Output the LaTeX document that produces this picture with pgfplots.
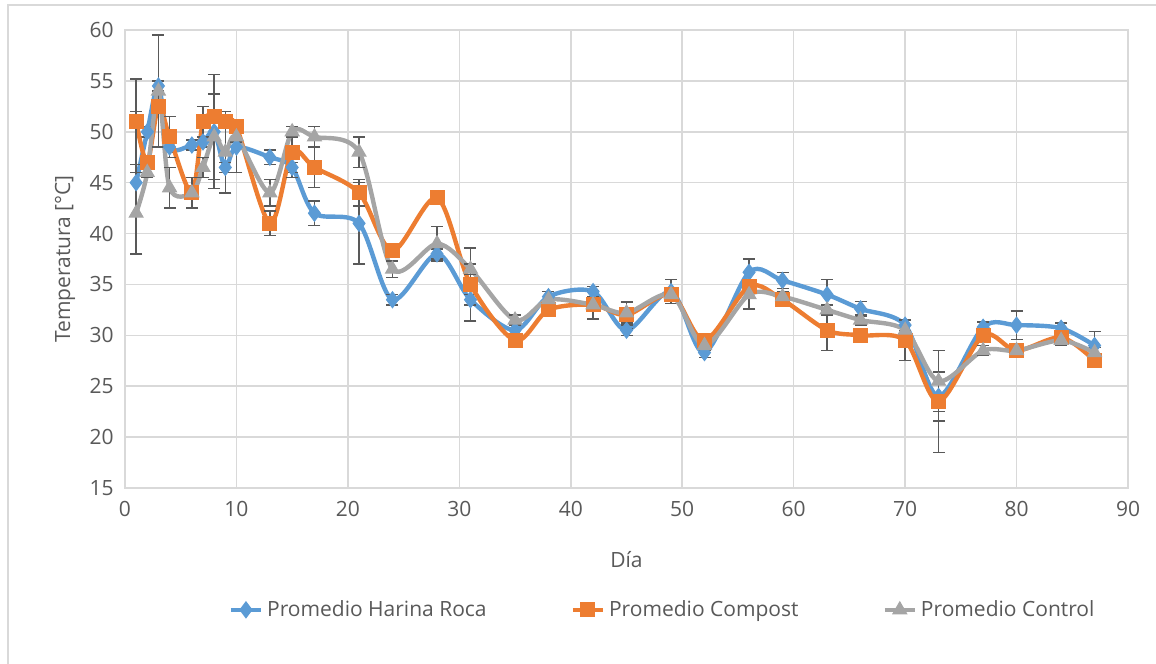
\documentclass[border=0pt]{standalone}
\usepackage{fontspec}
\setmainfont{Open Sans}
\usepackage{pgfplots}
\usepackage{pgfplotstable}
\pgfplotsset{compat=1.18}
\definecolor{cblue}{HTML}{5B9BD5}
\definecolor{corange}{HTML}{ED7D31}
\definecolor{cgray}{HTML}{A5A5A5}
\definecolor{ctext}{HTML}{595959}
\definecolor{cgrid}{HTML}{D9D9D9}
\definecolor{cerr}{HTML}{595959}

\pgfplotstableread{
x y e
1 45 7
2 50 0.5
3 54.5 0.5
4 48.5 0.5
6 48.7 0.5
7 49 0.5
8 50 5.6
9 46.5 0.5
10 48.5 2.5
13 47.5 0.7
15 46.5 0.5
17 42 1.2
21 41 4
24 33.5 0.5
28 38 0.5
31 33.5 0.5
35 30.5 0.5
38 33.8 0.5
42 34.3 0.5
45 30.5 0.5
49 34.3 1.2
52 28.3 0.5
56 36.2 1.3
59 35.4 0.8
63 34 1.5
66 32.6 0.7
70 31 0.5
73 24 2.4
77 30.8 0.5
80 31 1.4
84 30.7 0.5
87 29 1.4
}\harina

\pgfplotstableread{
x y e
1 51 4.2
2 47 0.5
3 52.5 0.5
4 49.5 2
6 44 1.5
7 51 1.5
8 51.5 0.5
9 51 0.5
10 50.5 0.5
13 41 1.2
15 48 2.5
17 46.5 2
21 44 1.3
24 38.3 0.5
28 43.5 0.5
31 35 3.6
35 29.5 0.5
38 32.5 0.5
42 33 0.5
45 32 1.3
49 34 0.5
52 29.5 0.5
56 34.8 0.5
59 33.5 0.5
63 30.5 2
66 30 0.5
70 29.5 2
73 23.5 5
77 30 0.5
80 28.5 0.5
84 29.8 0.5
87 27.5 0.5
}\compost

\pgfplotstableread{
x y e
1 42 4
2 46 0.5
3 54 5.5
4 44.5 2
6 44 0.5
7 46.5 1
8 49.5 4.2
9 48 4
10 49.5 0.5
13 44 1.3
15 50 0.5
17 49.5 1
21 48 1.5
24 36.5 0.8
28 39 1.7
31 36.5 0.5
35 31.5 0.5
38 33.5 0.8
42 33 1.4
45 32.2 1
49 34 0.5
52 29 0.5
56 34 1.4
59 33.8 0.5
63 32.5 0.5
66 31.5 0.5
70 30.5 1
73 25.5 3
77 28.5 0.5
80 28.5 0.5
84 29.5 0.5
87 28.3 0.5
}\control

\begin{document}
\fontsize{10.5bp}{12bp}\selectfont
\begin{tikzpicture}
\begin{axis}[
  scale only axis,
  width=501.5bp, height=229bp,
  xmin=0, xmax=90, ymin=15, ymax=60,
  xtick={0,10,...,90}, ytick={15,20,...,60},
  grid=major,
  major grid style={cgrid, line width=0.8bp},
  axis line style={cgrid, line width=0.8bp},
  tick style={draw=none},
  ticklabel style={color=ctext, font=\fontsize{10.5bp}{12bp}\selectfont},
  /pgf/number format/assume math mode=true,
  yticklabel style={xshift=-2bp},
  xticklabel style={yshift=-3bp},
  ylabel={Temperatura [°C]},
  xlabel={Día},
  label style={color=ctext, font=\fontsize{10.5bp}{12bp}\selectfont},
  ylabel style={at={(axis description cs:-0.0598,0.5)}, anchor=center},
  xlabel style={at={(axis description cs:0.5,-0.157)}, anchor=center},
  legend columns=3,
  legend style={at={(axis description cs:0.537,-0.266)}, anchor=center, draw=none,
    font=\fontsize{10.5bp}{12bp}\selectfont, text=ctext,
    /tikz/every even column/.append style={column sep=40bp}},
  legend image code/.code={
    \draw[#1, mark=none] (0bp,0bp) -- (15bp,0bp);
    \draw[#1, only marks] plot coordinates {(7.5bp,0bp)};
  },
  error bars/y dir=both,
  error bars/y explicit,
  error bars/error bar style={cerr, line width=0.7bp},
  error bars/error mark options={cerr, line width=0.7bp, rotate=90, mark size=3bp},
]
\addplot[cblue, line width=2.2bp, smooth, mark=diamond*, mark size=4bp,
  mark options={fill=cblue, draw=cblue, line width=0.5bp}]
  table[x=x, y=y, y error=e] {\harina};
\addlegendentry{Promedio Harina Roca}
\addplot[corange, line width=2.2bp, smooth, mark=square*, mark size=3.5bp,
  mark options={fill=corange, draw=corange, line width=0.5bp}]
  table[x=x, y=y, y error=e] {\compost};
\addlegendentry{Promedio Compost}
\addplot[cgray, line width=2.2bp, smooth, mark=triangle*, mark size=4bp,
  mark options={fill=cgray, draw=cgray, line width=0.5bp}]
  table[x=x, y=y, y error=e] {\control};
\addlegendentry{Promedio Control}
\end{axis}
\draw[cgrid, line width=0.8bp] (-58.5bp,-100bp) -- (-58.5bp,241.5bp) -- (530bp,241.5bp);
\pgfresetboundingbox
\path[use as bounding box] (-62.5bp,-88bp) rectangle (515.5bp,244bp);
\end{tikzpicture}
\end{document}
